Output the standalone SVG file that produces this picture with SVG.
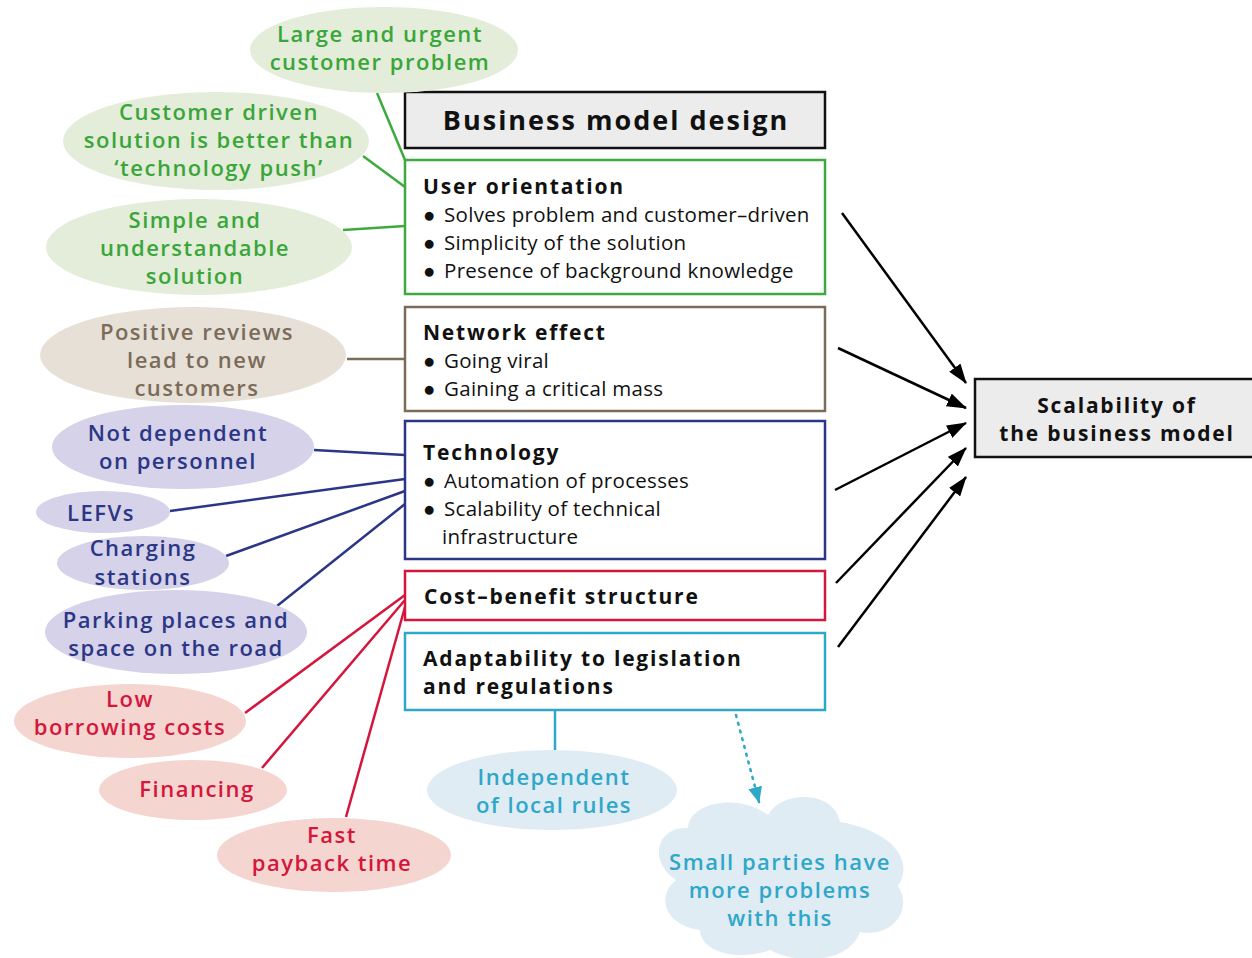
<svg xmlns="http://www.w3.org/2000/svg" width="1252" height="958" viewBox="0 0 1252 958">
<style>
text{font-family:"Open Sans","Liberation Sans",sans-serif}
.e{font-size:22px;font-weight:600;text-anchor:middle;letter-spacing:1.5px}
.bt{font-size:21px;font-weight:700;fill:#111;letter-spacing:1.8px}
.bl{font-size:20.5px;fill:#111;letter-spacing:0.3px}
.g{fill:#3aa63a}.gf{fill:#e3edd9}
.br{fill:#7b6b59}.brf{fill:#e7e0d7}
.n{fill:#2b3686}.nf{fill:#d5d2e9}
.r{fill:#d4163c}.rf{fill:#f5d5cf}
.c{fill:#2fa7c9}.cf{fill:#dfecf4}
.box{fill:#fff;stroke-width:2.5}
.ln{fill:none;stroke-width:2.5}
</style>
<defs>
<marker id="ah" viewBox="0 0 20 14" refX="19" refY="7" markerWidth="20" markerHeight="14" markerUnits="userSpaceOnUse" orient="auto">
<path d="M0,0 L20,7 L0,14 z" fill="#000"/>
</marker>
<marker id="ahc" viewBox="0 0 16 14" refX="15" refY="7" markerWidth="16" markerHeight="14" markerUnits="userSpaceOnUse" orient="auto">
<path d="M0,0 L16,7 L0,14 z" fill="#2fa7c9"/>
</marker>
</defs>
<rect width="1252" height="958" fill="#fff"/>
<g id="connectors">
<g stroke="#3daa3d" class="ln">
<line x1="377" y1="93" x2="405" y2="160"/>
<line x1="363" y1="156" x2="405" y2="187"/>
<line x1="343" y1="230" x2="405" y2="226"/>
</g>
<g stroke="#7b6b59" class="ln">
<line x1="347" y1="359" x2="405" y2="359"/>
</g>
<g stroke="#2b3686" class="ln">
<line x1="314" y1="450" x2="405" y2="455"/>
<line x1="170" y1="511" x2="405" y2="479"/>
<line x1="226" y1="556" x2="405" y2="491"/>
<line x1="277" y1="606" x2="405" y2="504"/>
</g>
<g stroke="#d4163c" class="ln">
<line x1="245" y1="713" x2="405" y2="595"/>
<line x1="262" y1="768" x2="405" y2="600"/>
<line x1="346" y1="817" x2="405" y2="607"/>
</g>
<g stroke="#2fa7c9" class="ln">
<line x1="555" y1="710" x2="555" y2="751"/>
<line x1="736" y1="715" x2="759" y2="802" stroke-dasharray="2,6" stroke-linecap="round" marker-end="url(#ahc)"/>
</g>
<g stroke="#000" class="ln" stroke-width="2.2">
<line x1="842" y1="213" x2="966" y2="383" marker-end="url(#ah)"/>
<line x1="838" y1="348" x2="966" y2="408" marker-end="url(#ah)"/>
<line x1="835" y1="490" x2="966" y2="423" marker-end="url(#ah)"/>
<line x1="836" y1="583" x2="966" y2="448" marker-end="url(#ah)"/>
<line x1="838" y1="647" x2="966" y2="477" marker-end="url(#ah)"/>
</g>
</g>
<g id="business-model-design">
<rect x="405" y="92" width="420" height="56" fill="#ececec" stroke="#111" stroke-width="2.5"/>
<text x="616" y="130" font-size="27" font-weight="700" fill="#111" text-anchor="middle" letter-spacing="2">Business model design</text>
</g>
<g id="user-orientation">
<rect x="405" y="160" width="420" height="134" class="box" stroke="#3daa3d"/>
<text x="423" y="194" class="bt">User orientation</text>
<text class="bl"><tspan x="423" y="222">●</tspan><tspan x="444" y="222">Solves problem and customer–driven</tspan></text>
<text class="bl"><tspan x="423" y="250">●</tspan><tspan x="444" y="250">Simplicity of the solution</tspan></text>
<text class="bl"><tspan x="423" y="278">●</tspan><tspan x="444" y="278">Presence of background knowledge</tspan></text>
</g>
<g id="network-effect">
<rect x="405" y="307" width="420" height="104" class="box" stroke="#7b6b59"/>
<text x="423" y="340" class="bt">Network effect</text>
<text class="bl"><tspan x="423" y="368">●</tspan><tspan x="444" y="368">Going viral</tspan></text>
<text class="bl"><tspan x="423" y="396">●</tspan><tspan x="444" y="396">Gaining a critical mass</tspan></text>
</g>
<g id="technology">
<rect x="405" y="421" width="420" height="138" class="box" stroke="#2b3686"/>
<text x="423" y="460" class="bt">Technology</text>
<text class="bl"><tspan x="423" y="488">●</tspan><tspan x="444" y="488">Automation of processes</tspan></text>
<text class="bl"><tspan x="423" y="516">●</tspan><tspan x="444" y="516">Scalability of technical</tspan></text>
<text x="442" y="544" class="bl">infrastructure</text>
</g>
<g id="cost-benefit">
<rect x="405" y="571" width="420" height="49" class="box" stroke="#d4163c"/>
<text x="424" y="604" class="bt">Cost–benefit structure</text>
</g>
<g id="adaptability">
<rect x="405" y="633" width="420" height="77" class="box" stroke="#2fa7c9"/>
<text x="423" y="666" class="bt">Adaptability to legislation</text>
<text x="423" y="694" class="bt">and regulations</text>
</g>
<g id="scalability">
<rect x="975" y="379" width="290" height="78" fill="#ececec" stroke="#111" stroke-width="2.5"/>
<text x="1117" y="413" class="bt" text-anchor="middle">Scalability of</text>
<text x="1117" y="441" class="bt" text-anchor="middle">the business model</text>
</g>
<g id="large-urgent">
<ellipse cx="384" cy="50" rx="134" ry="43" class="gf"/>
<text class="e g"><tspan x="380" y="42">Large and urgent</tspan><tspan x="380" y="70">customer problem</tspan></text>
</g>
<g id="customer-driven">
<ellipse cx="216" cy="141" rx="153" ry="49" class="gf"/>
<text class="e g"><tspan x="219" y="120">Customer driven</tspan><tspan x="219" y="148">solution is  better than</tspan><tspan x="219" y="176">‘technology push’</tspan></text>
</g>
<g id="simple">
<ellipse cx="199" cy="247" rx="153" ry="48" class="gf"/>
<text class="e g"><tspan x="195" y="228">Simple and</tspan><tspan x="195" y="256">understandable</tspan><tspan x="195" y="284">solution</tspan></text>
</g>
<g id="positive-reviews">
<ellipse cx="193" cy="355" rx="153" ry="48" class="brf"/>
<text class="e br"><tspan x="197" y="340">Positive reviews</tspan><tspan x="197" y="368">lead to new</tspan><tspan x="197" y="396">customers</tspan></text>
</g>
<g id="not-dependent">
<ellipse cx="183" cy="447" rx="131" ry="42" class="nf"/>
<text class="e n"><tspan x="178" y="441">Not dependent</tspan><tspan x="178" y="469">on personnel</tspan></text>
</g>
<g id="lefvs">
<ellipse cx="103" cy="512" rx="67" ry="21" class="nf"/>
<text class="e n" x="101" y="521">LEFVs</text>
</g>
<g id="charging">
<ellipse cx="143" cy="563" rx="86" ry="27" class="nf"/>
<text class="e n" font-size="21"><tspan x="143" y="556">Charging</tspan><tspan x="143" y="585">stations</tspan></text>
</g>
<g id="parking">
<ellipse cx="176" cy="632" rx="131" ry="42" class="nf"/>
<text class="e n"><tspan x="176" y="628">Parking places and</tspan><tspan x="176" y="656">space on the road</tspan></text>
</g>
<g id="low-borrowing">
<ellipse cx="130" cy="721" rx="116" ry="37" class="rf"/>
<text class="e r"><tspan x="130" y="707">Low</tspan><tspan x="130" y="735">borrowing costs</tspan></text>
</g>
<g id="financing">
<ellipse cx="193" cy="790" rx="94" ry="30" class="rf"/>
<text class="e r" x="197" y="797">Financing</text>
</g>
<g id="fast-payback">
<ellipse cx="334" cy="855" rx="117" ry="37" class="rf"/>
<text class="e r"><tspan x="332" y="843">Fast</tspan><tspan x="332" y="871">payback time</tspan></text>
</g>
<g id="independent">
<ellipse cx="552" cy="790" rx="125" ry="40" class="cf"/>
<text class="e c"><tspan x="554" y="785">Independent</tspan><tspan x="554" y="813">of local rules</tspan></text>
</g>
<g id="small-parties">
<path d="M676,880 C648,862 656,826 688,828 C690,800 742,794 768,815 C782,790 834,790 840,822 C888,830 916,858 898,886 C914,912 890,938 860,932 C850,962 800,966 770,950 C740,962 700,952 700,930 C664,925 656,896 676,880 Z" class="cf"/>
<text class="e c"><tspan x="780" y="870">Small parties have</tspan><tspan x="780" y="898">more problems</tspan><tspan x="780" y="926">with this</tspan></text>
</g>
</svg>
